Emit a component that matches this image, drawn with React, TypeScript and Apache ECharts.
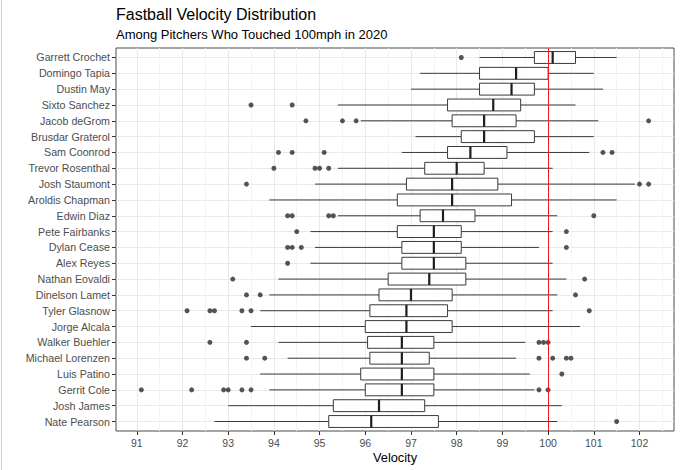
import React, { useEffect, useRef } from "react";
import * as echarts from "echarts";

const pitchers = [
  "Garrett Crochet", "Domingo Tapia", "Dustin May", "Sixto Sanchez", "Jacob deGrom",
  "Brusdar Graterol", "Sam Coonrod", "Trevor Rosenthal", "Josh Staumont", "Aroldis Chapman",
  "Edwin Diaz", "Pete Fairbanks", "Dylan Cease", "Alex Reyes", "Nathan Eovaldi",
  "Dinelson Lamet", "Tyler Glasnow", "Jorge Alcala", "Walker Buehler", "Michael Lorenzen",
  "Luis Patino", "Gerrit Cole", "Josh James", "Nate Pearson",
];

const whiskerLow = [98.5, 97.2, 97.0, 95.4, 95.9, 97.1, 96.8, 95.4, 94.9, 93.9, 95.4, 94.8, 94.9, 94.8, 94.1, 93.9, 93.7, 93.5, 94.1, 94.3, 93.7, 93.9, 93.0, 92.7];
const q1 = [99.7, 98.5, 98.5, 97.8, 97.9, 98.1, 97.8, 97.3, 96.9, 96.7, 97.2, 96.7, 96.8, 96.8, 96.5, 96.3, 96.1, 96.0, 96.05, 96.1, 95.9, 96.0, 95.3, 95.2];
const medians = [100.1, 99.3, 99.2, 98.8, 98.6, 98.6, 98.3, 98.0, 97.9, 97.9, 97.7, 97.5, 97.5, 97.5, 97.4, 97.0, 96.9, 96.9, 96.8, 96.8, 96.8, 96.8, 96.3, 96.13];
const q3 = [100.6, 100.0, 99.7, 99.4, 99.3, 99.7, 99.1, 98.6, 98.9, 99.2, 98.4, 98.1, 98.1, 98.2, 98.2, 97.9, 97.8, 97.9, 97.5, 97.4, 97.5, 97.5, 97.3, 97.6];
const whiskerHigh = [101.5, 101.0, 101.2, 100.6, 101.1, 101.0, 100.9, 100.1, 101.9, 101.5, 100.2, 100.1, 99.8, 100.1, 100.4, 100.2, 100.1, 100.7, 99.5, 99.3, 99.6, 99.7, 100.3, 100.2];

const outliers: number[][] = [
  [98.1],
  [],
  [],
  [93.5, 94.4],
  [94.7, 95.5, 95.8, 102.2],
  [],
  [94.1, 94.4, 95.1, 101.2, 101.4],
  [94.0, 94.9, 95.0, 95.2],
  [93.4, 102.0, 102.2],
  [],
  [94.3, 94.4, 95.2, 95.3, 101.0],
  [94.5, 100.4],
  [94.3, 94.4, 94.6, 100.4],
  [94.3],
  [93.1, 100.8],
  [93.4, 93.7, 100.6],
  [92.1, 92.6, 92.7, 93.3, 93.5, 100.9],
  [],
  [92.6, 93.4, 99.8, 99.9, 100.0],
  [93.4, 93.8, 99.8, 100.1, 100.4, 100.5],
  [100.3],
  [91.1, 92.2, 92.9, 93.0, 93.3, 93.5, 99.8, 100.0],
  [],
  [101.5],
];

const xTicks = [91, 92, 93, 94, 95, 96, 97, 98, 99, 100, 101, 102];
const referenceSpeed = 100;

const FONT = "'Liberation Sans', Arial, sans-serif";

export default function App() {
  const ref = useRef<HTMLDivElement>(null);

  useEffect(() => {
    document.body.style.margin = "0";
    if (!ref.current) return;
    const chart = echarts.init(ref.current, null, { renderer: "svg" });

    const boxData = pitchers.map((_, i) => [i, whiskerLow[i], q1[i], medians[i], q3[i], whiskerHigh[i]]);
    const outlierData: number[][] = [];
    outliers.forEach((arr, i) => arr.forEach((v) => outlierData.push([v, i])));
    const yIdx = pitchers.map((_, i) => i);

    const boxStroke = "#3a3a3a";

    const option: any = {
      animation: false,
      backgroundColor: "#ffffff",
      textStyle: { fontFamily: FONT },
      grid: {
        left: 116,
        right: 6,
        top: 48,
        bottom: 39,
        show: true,
        borderColor: "#4a4a4a",
        borderWidth: 1,
        backgroundColor: "transparent",
      },
      xAxis: {
        type: "value",
        position: "bottom",
        min: 90.545,
        max: 102.755,
        splitNumber: 12,
        axisLine: { show: false, onZero: false },
        axisTick: { show: true, customValues: xTicks, length: 4, lineStyle: { color: "#333", width: 1 } },
        axisLabel: {
          customValues: xTicks,
          color: "#4d4d4d",
          fontSize: 10.5,
          fontFamily: FONT,
          margin: 6,
          formatter: (v: number) => String(v),
        },
        splitLine: { show: true, lineStyle: { color: "#e9e9e9", width: 1 } },
        minorTick: { show: false, splitNumber: 2 },
        minorSplitLine: { show: true, lineStyle: { color: "#f4f4f4", width: 1 } },
      },
      yAxis: {
        type: "value",
        position: "left",
        inverse: true,
        min: -0.6,
        max: 23.6,
        splitNumber: 24,
        axisLine: { show: false, onZero: false },
        axisTick: { show: true, customValues: yIdx, length: 4, lineStyle: { color: "#333", width: 1 } },
        axisLabel: {
          customValues: yIdx,
          color: "#4d4d4d",
          fontSize: 10.7,
          fontFamily: FONT,
          margin: 6,
          formatter: (v: number) => (Number.isInteger(v) && pitchers[v] ? pitchers[v] : ""),
        },
        splitLine: { show: true, lineStyle: { color: "#e9e9e9", width: 1 } },
      },
      series: [
        {
          type: "custom",
          z: 2,
          silent: true,
          encode: { x: [1, 2, 3, 4, 5], y: 0 },
          data: boxData,
          renderItem: (params: any, api: any) => {
            const idx = api.value(0);
            const lo = api.coord([api.value(1), idx]);
            const a = api.coord([api.value(2), idx]);
            const m = api.coord([api.value(3), idx]);
            const b = api.coord([api.value(4), idx]);
            const hi = api.coord([api.value(5), idx]);
            const h = api.size([0, 0.75])[1];
            const y = lo[1];
            const ls = { stroke: boxStroke, lineWidth: 1, fill: null };
            return {
              type: "group",
              children: [
                { type: "line", shape: { x1: lo[0], y1: y, x2: a[0], y2: y }, style: ls },
                { type: "line", shape: { x1: b[0], y1: y, x2: hi[0], y2: y }, style: ls },
                {
                  type: "rect",
                  shape: { x: a[0], y: y - h / 2, width: b[0] - a[0], height: h },
                  style: { fill: "#ffffff", stroke: boxStroke, lineWidth: 1 },
                },
                {
                  type: "line",
                  shape: { x1: m[0], y1: y - h / 2, x2: m[0], y2: y + h / 2 },
                  style: { stroke: "#1e1e1e", lineWidth: 2.2 },
                },
              ],
            };
          },
        },
        {
          type: "scatter",
          z: 3,
          silent: true,
          symbol: "circle",
          symbolSize: 5,
          itemStyle: { color: "#2b2b2b" },
          data: outlierData,
          markLine: {
            silent: true,
            symbol: ["none", "none"],
            label: { show: false },
            lineStyle: { color: "#f01e1e", width: 1, type: "solid" },
            data: [{ xAxis: referenceSpeed }],
          },
        },
      ],
      graphic: [
        {
          type: "line",
          shape: { x1: 1.5, y1: 0, x2: 1.5, y2: 470 },
          style: { stroke: "#d0d0d0", lineWidth: 1 },
        },
        {
          type: "text",
          style: {
            x: 116,
            y: 14.5,
            text: "Fastball Velocity Distribution",
            font: `16px ${FONT}`,
            fill: "#000000",
            align: "left",
            verticalAlign: "middle",
          },
        },
        {
          type: "text",
          style: {
            x: 116,
            y: 34.8,
            text: "Among Pitchers Who Touched 100mph in 2020",
            font: `13px ${FONT}`,
            fill: "#000000",
            align: "left",
            verticalAlign: "middle",
          },
        },
        {
          type: "text",
          style: {
            x: 395,
            y: 457,
            text: "Velocity",
            font: `12.8px ${FONT}`,
            fill: "#000000",
            align: "center",
            verticalAlign: "middle",
          },
        },
      ],
    };

    chart.setOption(option);
    return () => chart.dispose();
  }, []);

  return (
    <div
      ref={ref}
      style={{ position: "fixed", left: 0, top: 0, width: 680, height: 470, background: "#fff" }}
    />
  );
}
